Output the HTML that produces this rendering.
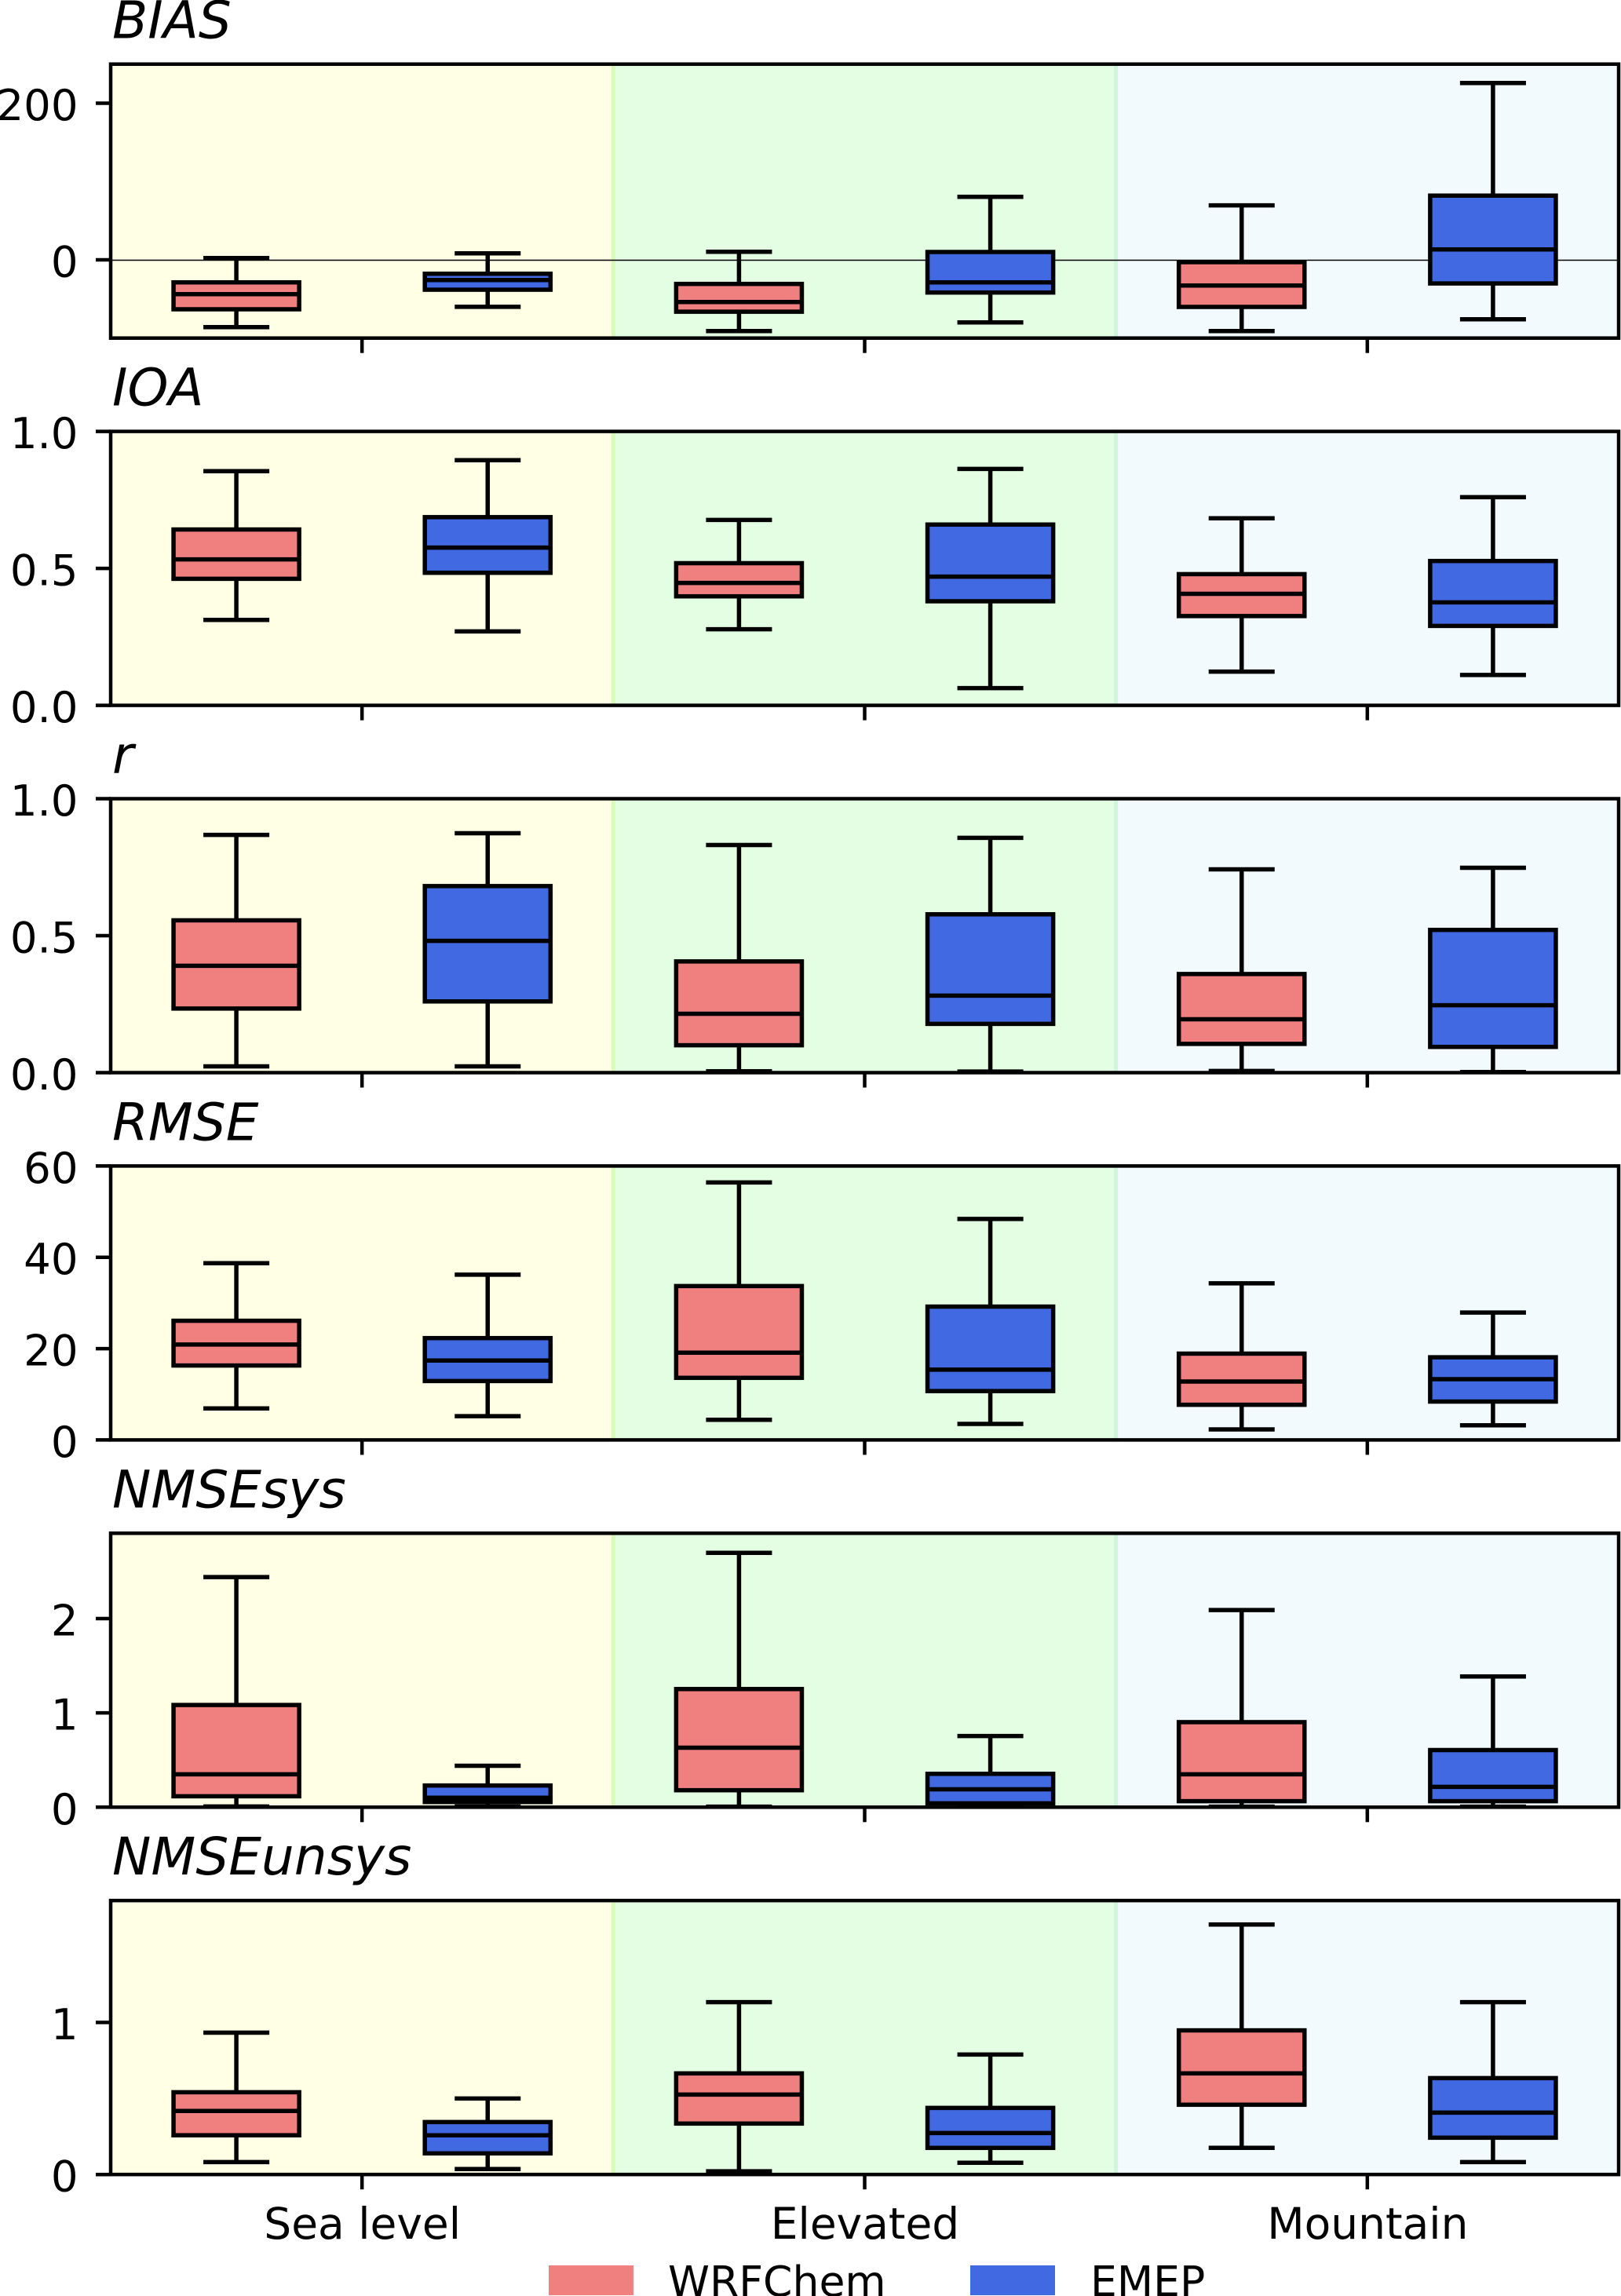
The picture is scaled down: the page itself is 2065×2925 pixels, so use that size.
<!DOCTYPE html>
<html lang="en">
<head>
<meta charset="utf-8">
<title>Box plots of model statistics by station elevation</title>
<style>
html,body{margin:0;padding:0;background:#fff;}
body{width:2065px;height:2925px;overflow:hidden;}
svg{display:block;}
text{font-family:"DejaVu Sans","Liberation Sans",sans-serif;fill:#000;}
</style>
</head>
<body>
<svg id="chart" xmlns="http://www.w3.org/2000/svg" width="2065" height="2925" viewBox="0 0 2065 2925">
<rect x="0" y="0" width="2065" height="2925" fill="#ffffff"/>
</svg>
<script>
// Categories and labels
const categories = ["Sea level", "Elevated", "Mountain"];
const seriesNames = ["WRFChem", "EMEP"];
const panelTitles = ["BIAS", "IOA", "r", "RMSE", "NMSEsys", "NMSEunsys"];

// Axis limits and tick labels
const biasLimits = [-100, 250];
const ioaLimits = [0, 1];
const rLimits = [0, 1];
const rmseLimits = [0, 60];
const nmseSysLimits = [0, 2.905];
const nmseUnsysLimits = [0, 1.802];
const biasTicks = ["0", "200"];
const ioaTicks = ["0.0", "0.5", "1.0"];
const rTicks = ["0.0", "0.5", "1.0"];
const rmseTicks = ["0", "20", "40", "60"];
const nmseSysTicks = ["0", "1", "2"];
const nmseUnsysTicks = ["0", "1"];

// Box statistics; order: WRF/EMEP Sea level, WRF/EMEP Elevated, WRF/EMEP Mountain
const biasLow = [-86, -60, -91, -80, -91, -76];
const biasQ1 = [-63.2, -38.2, -66.3, -41.8, -60.2, -30.2];
const biasMedian = [-43.9, -25.8, -53.9, -28.8, -32.8, 13.3];
const biasQ3 = [-28.8, -17.8, -30.8, 10, -3, 82];
const biasHigh = [2.3, 8.3, 10.3, 80.5, 69.5, 225.9];

const ioaLow = [0.312, 0.27, 0.278, 0.063, 0.123, 0.111];
const ioaQ1 = [0.462, 0.484, 0.398, 0.38, 0.326, 0.29];
const ioaMedian = [0.533, 0.576, 0.447, 0.47, 0.407, 0.376];
const ioaQ3 = [0.642, 0.687, 0.519, 0.66, 0.479, 0.527];
const ioaHigh = [0.855, 0.895, 0.677, 0.863, 0.683, 0.76];

const rLow = [0.023, 0.023, 0.005, 0.004, 0.006, 0.002];
const rQ1 = [0.234, 0.26, 0.1, 0.178, 0.105, 0.094];
const rMedian = [0.39, 0.481, 0.215, 0.281, 0.195, 0.246];
const rQ3 = [0.556, 0.681, 0.406, 0.578, 0.36, 0.521];
const rHigh = [0.868, 0.874, 0.831, 0.857, 0.742, 0.748];

const rmseLow = [6.9, 5.2, 4.4, 3.5, 2.3, 3.2];
const rmseQ1 = [16.3, 12.9, 13.6, 10.7, 7.7, 8.4];
const rmseMedian = [20.9, 17.4, 19.1, 15.4, 12.8, 13.3];
const rmseQ3 = [26.1, 22.3, 33.7, 29.2, 18.9, 18.1];
const rmseHigh = [38.7, 36.2, 56.4, 48.4, 34.3, 27.9];

const nmseSysLow = [0.008, 0.008, 0.006, 0.006, 0.006, 0.006];
const nmseSysQ1 = [0.116, 0.055, 0.18, 0.041, 0.064, 0.064];
const nmseSysMedian = [0.349, 0.1, 0.631, 0.19, 0.349, 0.216];
const nmseSysQ3 = [1.084, 0.23, 1.253, 0.354, 0.902, 0.606];
const nmseSysHigh = [2.44, 0.44, 2.697, 0.755, 2.091, 1.386];

const nmseUnsysLow = [0.082, 0.036, 0.021, 0.077, 0.175, 0.082];
const nmseUnsysQ1 = [0.258, 0.139, 0.335, 0.175, 0.459, 0.242];
const nmseUnsysMedian = [0.418, 0.258, 0.526, 0.273, 0.665, 0.407];
const nmseUnsysQ3 = [0.541, 0.345, 0.665, 0.438, 0.948, 0.634];
const nmseUnsysHigh = [0.933, 0.5, 1.134, 0.789, 1.644, 1.134];

const panels = [
  {limits: biasLimits, ticks: biasTicks, low: biasLow, q1: biasQ1, med: biasMedian, q3: biasQ3, high: biasHigh},
  {limits: ioaLimits, ticks: ioaTicks, low: ioaLow, q1: ioaQ1, med: ioaMedian, q3: ioaQ3, high: ioaHigh},
  {limits: rLimits, ticks: rTicks, low: rLow, q1: rQ1, med: rMedian, q3: rQ3, high: rHigh},
  {limits: rmseLimits, ticks: rmseTicks, low: rmseLow, q1: rmseQ1, med: rmseMedian, q3: rmseQ3, high: rmseHigh},
  {limits: nmseSysLimits, ticks: nmseSysTicks, low: nmseSysLow, q1: nmseSysQ1, med: nmseSysMedian, q3: nmseSysQ3, high: nmseSysHigh},
  {limits: nmseUnsysLimits, ticks: nmseUnsysTicks, low: nmseUnsysLow, q1: nmseUnsysQ1, med: nmseUnsysMedian, q3: nmseUnsysQ3, high: nmseUnsysHigh}
];

const NS = "http://www.w3.org/2000/svg";
const svg = document.getElementById("chart");
const plotLeft = 141, plotRight = 2062, plotHeight = 349, firstTop = 81.7, panelStep = 467.9;
const regionFills = ["#FEFFE4", "#E4FEE3", "#F2FAFD"];
const boundaryFills = ["#D8FBB8", "#CFF5DC"];
const seriesFills = ["#F08080", "#4169E1"];
const lineW = 5.5, spineW = 4.5, tickLabelSize = 54.5, categoryLabelSize = 55;
const slot = (plotRight - plotLeft) / 6;

function xScale(i) { return plotLeft + (i + 0.5) * slot; }
function regionX(r) { return plotLeft + r * 2 * slot; }
function yScaleFor(limits, top) {
  return function (v) { return top + plotHeight * (limits[1] - v) / (limits[1] - limits[0]); };
}
function make(tag, attrs, parent) {
  const e = document.createElementNS(NS, tag);
  for (const k in attrs) e.setAttribute(k, attrs[k]);
  parent.appendChild(e);
  return e;
}
function slug(s) { return s.toLowerCase().replace(/\s+/g, "-"); }

panels.forEach(function (p, pi) {
  const top = firstTop + pi * panelStep;
  const bottom = top + plotHeight;
  const y = yScaleFor(p.limits, top);
  const pname = slug(panelTitles[pi]);

  const g = make("g", {}, svg);
  
  

  const clip = make("clipPath", {id: "clip-" + pi}, g);
  make("rect", {x: plotLeft, y: top, width: plotRight - plotLeft, height: plotHeight}, clip);

  regionFills.forEach(function (fill, r) {
    const rect = make("rect", {x: regionX(r), y: top, width: 2 * slot, height: plotHeight, fill: fill}, g);
    
    
  });
  boundaryFills.forEach(function (fill, b) {
    const rect = make("rect", {x: regionX(b + 1) - 2.5, y: top, width: 5, height: plotHeight, fill: fill}, g);
    
    
  });

  if (p.limits[0] < 0) {
    const zero = make("line", {x1: plotLeft, x2: plotRight, y1: y(0) + 0.5, y2: y(0) + 0.5, stroke: "#000", "stroke-width": 1.5}, g);
    
    
  }

  p.low.forEach(function (_, i) {
    const x = xScale(i);
    const halfBox = slot * 0.25, halfCap = slot * 0.125;
    const series = i % 2;
    const box = make("g", {"clip-path": "url(#clip-" + pi + ")"}, g);
    
    

    const lineStyle = {stroke: "#000", "stroke-width": lineW};
    const whiskerHigh = make("line", Object.assign({x1: x, x2: x, y1: y(p.q3[i]), y2: y(p.high[i])}, lineStyle), box);
    
    
    const whiskerLow = make("line", Object.assign({x1: x, x2: x, y1: y(p.q1[i]), y2: y(p.low[i])}, lineStyle), box);
    
    
    const capHigh = make("line", Object.assign({x1: x - halfCap - 2, x2: x + halfCap + 2, y1: y(p.high[i]), y2: y(p.high[i])}, lineStyle), box);
    
    
    const capLow = make("line", Object.assign({x1: x - halfCap - 2, x2: x + halfCap + 2, y1: y(p.low[i]), y2: y(p.low[i])}, lineStyle), box);
    
    

    const rect = make("rect", {x: x - halfBox, y: y(p.q3[i]), width: 2 * halfBox, height: y(p.q1[i]) - y(p.q3[i]), fill: seriesFills[series], stroke: "#000", "stroke-width": lineW}, box);
    
    
    const median = make("line", Object.assign({x1: x - halfBox, x2: x + halfBox, y1: y(p.med[i]), y2: y(p.med[i])}, lineStyle), box);
    
    
  });

  const frame = make("rect", {x: plotLeft, y: top, width: plotRight - plotLeft, height: plotHeight, fill: "none", stroke: "#000", "stroke-width": spineW}, g);
  
  

  p.ticks.forEach(function (label) {
    const ty = y(parseFloat(label));
    const tick = make("line", {x1: plotLeft - 19, x2: plotLeft, y1: ty, y2: ty, stroke: "#000", "stroke-width": spineW}, g);
    
    
    const t = make("text", {x: 99.5, y: ty + 21.5, "text-anchor": "end", "font-size": tickLabelSize}, g);
    t.textContent = label;
    
    
  });

  categories.forEach(function (name, c) {
    const tx = regionX(c) + slot;
    const tick = make("line", {x1: tx, x2: tx, y1: bottom, y2: bottom + 19, stroke: "#000", "stroke-width": spineW}, g);
    
    
  });

  const title = make("text", {x: 143, y: top - 33, "font-size": 66, "font-style": "italic"}, g);
  title.textContent = panelTitles[pi];
  
  
});

categories.forEach(function (name, c) {
  const t = make("text", {x: regionX(c) + slot + 0.5, y: 2852, "text-anchor": "middle", "font-size": categoryLabelSize}, svg);
  t.textContent = name;
  
  
});

const legendPatchX = [699, 1236];
const legendTextX = [851, 1389];
seriesNames.forEach(function (name, s) {
  const patch = make("rect", {x: legendPatchX[s], y: 2886, width: 108, height: 38, fill: seriesFills[s]}, svg);
  
  
  const t = make("text", {x: legendTextX[s], y: 2925, "font-size": 53.6}, svg);
  t.textContent = name;
  
  
});
</script>
</body>
</html>
